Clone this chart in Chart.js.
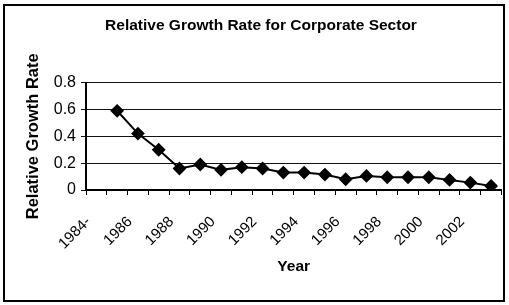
<!DOCTYPE html>
<html>
<head>
<meta charset="utf-8">
<script src="https://cdn.jsdelivr.net/npm/chart.js@4"></script>
<style>
  body { margin: 0; background: #fff; }
  canvas { display: block; }
</style>
</head>
<body>
<canvas id="chart" width="509" height="305"></canvas>
<script>
const years = ["1984-", "1985", "1986", "1987", "1988", "1989", "1990", "1991", "1992", "1993",
               "1994", "1995", "1996", "1997", "1998", "1999", "2000", "2001", "2002", "2003"];
const growthRate = [null, 0.59, 0.42, 0.30, 0.16, 0.19, 0.15, 0.17, 0.16, 0.13,
                    0.13, 0.115, 0.08, 0.105, 0.095, 0.095, 0.095, 0.075, 0.055, 0.03];
const yTicks = [0, 0.2, 0.4, 0.6, 0.8];

const fontFamily = "'Liberation Sans', Arial, sans-serif";

// outer frame like the original picture
const framePlugin = {
    id: "frame",
    beforeDraw(chart) {
        const ctx = chart.ctx;
        ctx.save();
        ctx.fillStyle = "#fff";
        ctx.fillRect(0, 0, chart.width, chart.height);
        ctx.strokeStyle = "#000";
        ctx.lineWidth = 2;
        ctx.strokeRect(4, 5, 500, 296);
        ctx.restore();
    }
};

new Chart(document.getElementById("chart").getContext("2d"), {
    type: "line",
    data: {
        labels: years,
        datasets: [{
            label: "Relative Growth Rate",
            data: growthRate,
            borderColor: "#000",
            backgroundColor: "#000",
            borderWidth: 2,
            pointStyle: "rectRot",
            pointRadius: 5.5,
            pointBackgroundColor: "#000",
            pointBorderColor: "#000",
            tension: 0
        }]
    },
    options: {
        responsive: false,
        animation: false,
        layout: { padding: { left: 20, right: 7, top: 8, bottom: 8 } },
        plugins: {
            legend: { display: false },
            tooltip: { enabled: false },
            title: {
                display: true,
                text: "Relative Growth Rate for Corporate Sector",
                color: "#000",
                font: { family: fontFamily, size: 15.5, weight: "bold" },
                padding: { top: 8, bottom: 48 }
            }
        },
        scales: {
            x: {
                offset: true,
                afterFit(scale) {
                    scale.height = 107;
                    scale.paddingLeft = 0;
                    scale.paddingRight = 0;
                },
                grid: {
                    offset: true,
                    drawOnChartArea: false,
                    drawTicks: true,
                    tickLength: 5,
                    color: "#000"
                },
                border: { color: "#000", width: 2 },
                ticks: {
                    autoSkip: false,
                    minRotation: 45,
                    maxRotation: 45,
                    labelOffset: -8,
                    padding: 18,
                    color: "#000",
                    font: { family: fontFamily, size: 15 },
                    callback(value, index) {
                        return index % 2 === 0 ? years[index] : "";
                    }
                },
                title: {
                    display: true,
                    text: "Year",
                    color: "#000",
                    font: { family: fontFamily, size: 15.5, weight: "bold" },
                    padding: { top: 4, bottom: 21 }
                }
            },
            y: {
                min: 0,
                max: 0.8,
                afterFit(scale) { scale.width = 66; },
                afterBuildTicks(scale) {
                    scale.ticks = yTicks.map(v => ({ value: v }));
                },
                grid: {
                    color: "#111",
                    lineWidth: 1,
                    tickLength: 5
                },
                border: { color: "#000", width: 2 },
                ticks: {
                    padding: 5,
                    color: "#000",
                    font: { family: fontFamily, size: 16 },
                    callback: v => String(+v.toFixed(1))
                },
                title: {
                    display: true,
                    text: "Relative Growth Rate",
                    color: "#000",
                    font: { family: fontFamily, size: 16.5, weight: "bold" },
                    padding: { top: 4, bottom: 0 }
                }
            }
        }
    },
    plugins: [framePlugin]
});
</script>
</body>
</html>
